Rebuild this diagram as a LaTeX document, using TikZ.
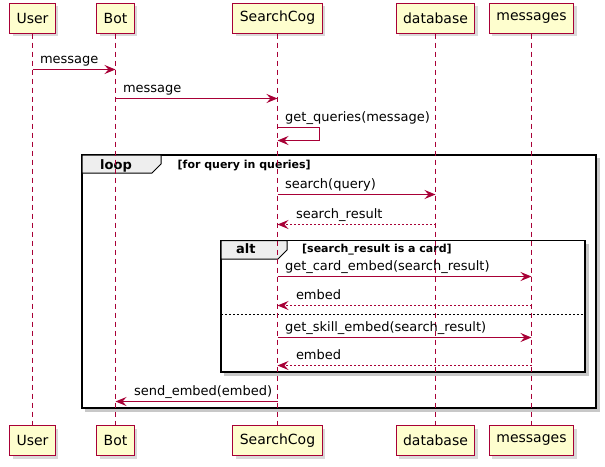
\documentclass[tikz,border=0pt]{standalone}
\usepackage{fontspec}
\setmainfont{DejaVu Sans}
\usetikzlibrary{arrows.meta,shadows}
\definecolor{umlred}{HTML}{A80036}
\definecolor{umlyellow}{HTML}{FEFECE}
\definecolor{tabgray}{HTML}{EEEEEE}
\definecolor{shadowgray}{HTML}{C8C8C8}

\begin{document}
\begin{tikzpicture}[x=1pt,y=-1pt,font=\fontsize{13}{15}\selectfont,
  umlshadow/.style={drop shadow={shadow xshift=3pt,shadow yshift=-3pt,opacity=0.3}},
  actor/.style={draw=umlred,fill=umlyellow,line width=1pt,umlshadow,
    minimum height=30pt,inner xsep=7pt,font=\fontsize{14}{16}\selectfont},
  lifeline/.style={draw=umlred,line width=1pt,dash pattern=on 5pt off 4pt},
  msg/.style={draw=umlred,line width=1pt,
    -{Stealth[length=11pt,width=9pt,inset=4pt,fill=umlred]}},
  reply/.style={msg,dash pattern=on 2pt off 2pt},
  msglabel/.style={anchor=base west,inner sep=0pt,text=black},
  frameshadow/.style={fill=shadowgray},
  frame/.style={draw,line width=1.5pt},
  tab/.style={draw,fill=tabgray,line width=1pt},
  framename/.style={anchor=base west,inner sep=0pt,font=\fontsize{13}{15}\selectfont\bfseries},
  guard/.style={anchor=base west,inner sep=0pt,font=\fontsize{11}{13}\selectfont\bfseries}]

\useasboundingbox (0,0) rectangle (605,466);

% Frame shadows (loop, alt), kept under everything
\fill[frameshadow] (85,158) rectangle (599.5,411.5);
\fill[white] (82,155) rectangle (596,408);
\fill[frameshadow] (224,243.5) rectangle (588.5,375.5);
\fill[white] (221,240.5) rectangle (585,372);

% Frames with their headers
\draw[frame] (82,155) rectangle (596,408);
\draw[tab] (82,155) -- (161,155) -- (161,164) -- (152,173) -- (82,173) -- cycle;
\node[framename] (loopName) at (100,169) {loop};
\node[guard] (loopGuard) at (177.5,168) {[for query in queries]};

\draw[frame] (221,240.5) rectangle (585,372);
\draw[tab] (221,240.5) -- (287,240.5) -- (287,250) -- (278,259) -- (221,259) -- cycle;
\node[framename] (altName) at (236,253.5) {alt};
\node[guard] (altGuard) at (302,252.5) {[search\_result is a card]};
\draw[line width=1pt,dash pattern=on 2pt off 2pt] (221,314.5) -- (585,314.5);

% Participants, top and bottom
\node[actor] (userTop) at (32.5,18) {User};
\node[actor] (botTop) at (115.5,18) {Bot};
\node[actor] (cogTop) at (277.5,18) {SearchCog};
\node[actor] (dbTop) at (435.5,18) {database};
\node[actor] (msgsTop) at (531.5,18) {messages};

\node[actor] (userBot) at (32.5,440.5) {User};
\node[actor] (botBot) at (115.5,440.5) {Bot};
\node[actor] (cogBot) at (277.5,440.5) {SearchCog};
\node[actor] (dbBot) at (435.5,440.5) {database};
\node[actor] (msgsBot) at (531.5,440.5) {messages};

% Lifelines
\foreach \p in {user,bot,cog,db,msgs}
  \draw[lifeline] (\p Top.south) -- (\p Bot.north);

% Incoming message
\draw[msg] (userTop |- 0,69.5) -- (botTop |- 0,69.5)
  node[msglabel,pos=0,xshift=7pt,yshift=6pt] (l1) {message};
\draw[msg] (botTop |- 0,98.5) -- (cogTop |- 0,98.5)
  node[msglabel,pos=0,xshift=7pt,yshift=6pt] (l2) {message};

% Self call
\coordinate (selfOut) at (319.5,127.5);
\coordinate (selfBack) at (319.5,140.5);
\draw[msg] (cogTop |- selfOut) -- (selfOut) -- (selfBack) -- (cogTop |- selfBack);
\node[msglabel] (l3) at (285,121) {get\_queries(message)};

% Inside the loop
\draw[msg] (cogTop |- 0,194.5) -- (dbTop |- 0,194.5)
  node[msglabel,pos=0,xshift=7pt,yshift=6pt] (l4) {search(query)};
\draw[reply] (dbTop |- 0,224.5) -- (cogTop |- 0,224.5)
  node[msglabel,pos=1,xshift=18pt,yshift=6pt] (l5) {search\_result};

% Inside the alt
\draw[msg] (cogTop |- 0,276.5) -- (msgsTop |- 0,276.5)
  node[msglabel,pos=0,xshift=7pt,yshift=6pt] (l6) {get\_card\_embed(search\_result)};
\draw[reply] (msgsTop |- 0,305.5) -- (cogTop |- 0,305.5)
  node[msglabel,pos=1,xshift=18pt,yshift=6pt] (l7) {embed};
\draw[msg] (cogTop |- 0,337.5) -- (msgsTop |- 0,337.5)
  node[msglabel,pos=0,xshift=7pt,yshift=6pt] (l8) {get\_skill\_embed(search\_result)};
\draw[reply] (msgsTop |- 0,365.5) -- (cogTop |- 0,365.5)
  node[msglabel,pos=1,xshift=18pt,yshift=6pt] (l9) {embed};

% Answer to the bot
\draw[msg] (cogTop |- 0,401.5) -- (botTop |- 0,401.5)
  node[msglabel,pos=1,xshift=18pt,yshift=6pt] (l10) {send\_embed(embed)};

\end{tikzpicture}
\end{document}
